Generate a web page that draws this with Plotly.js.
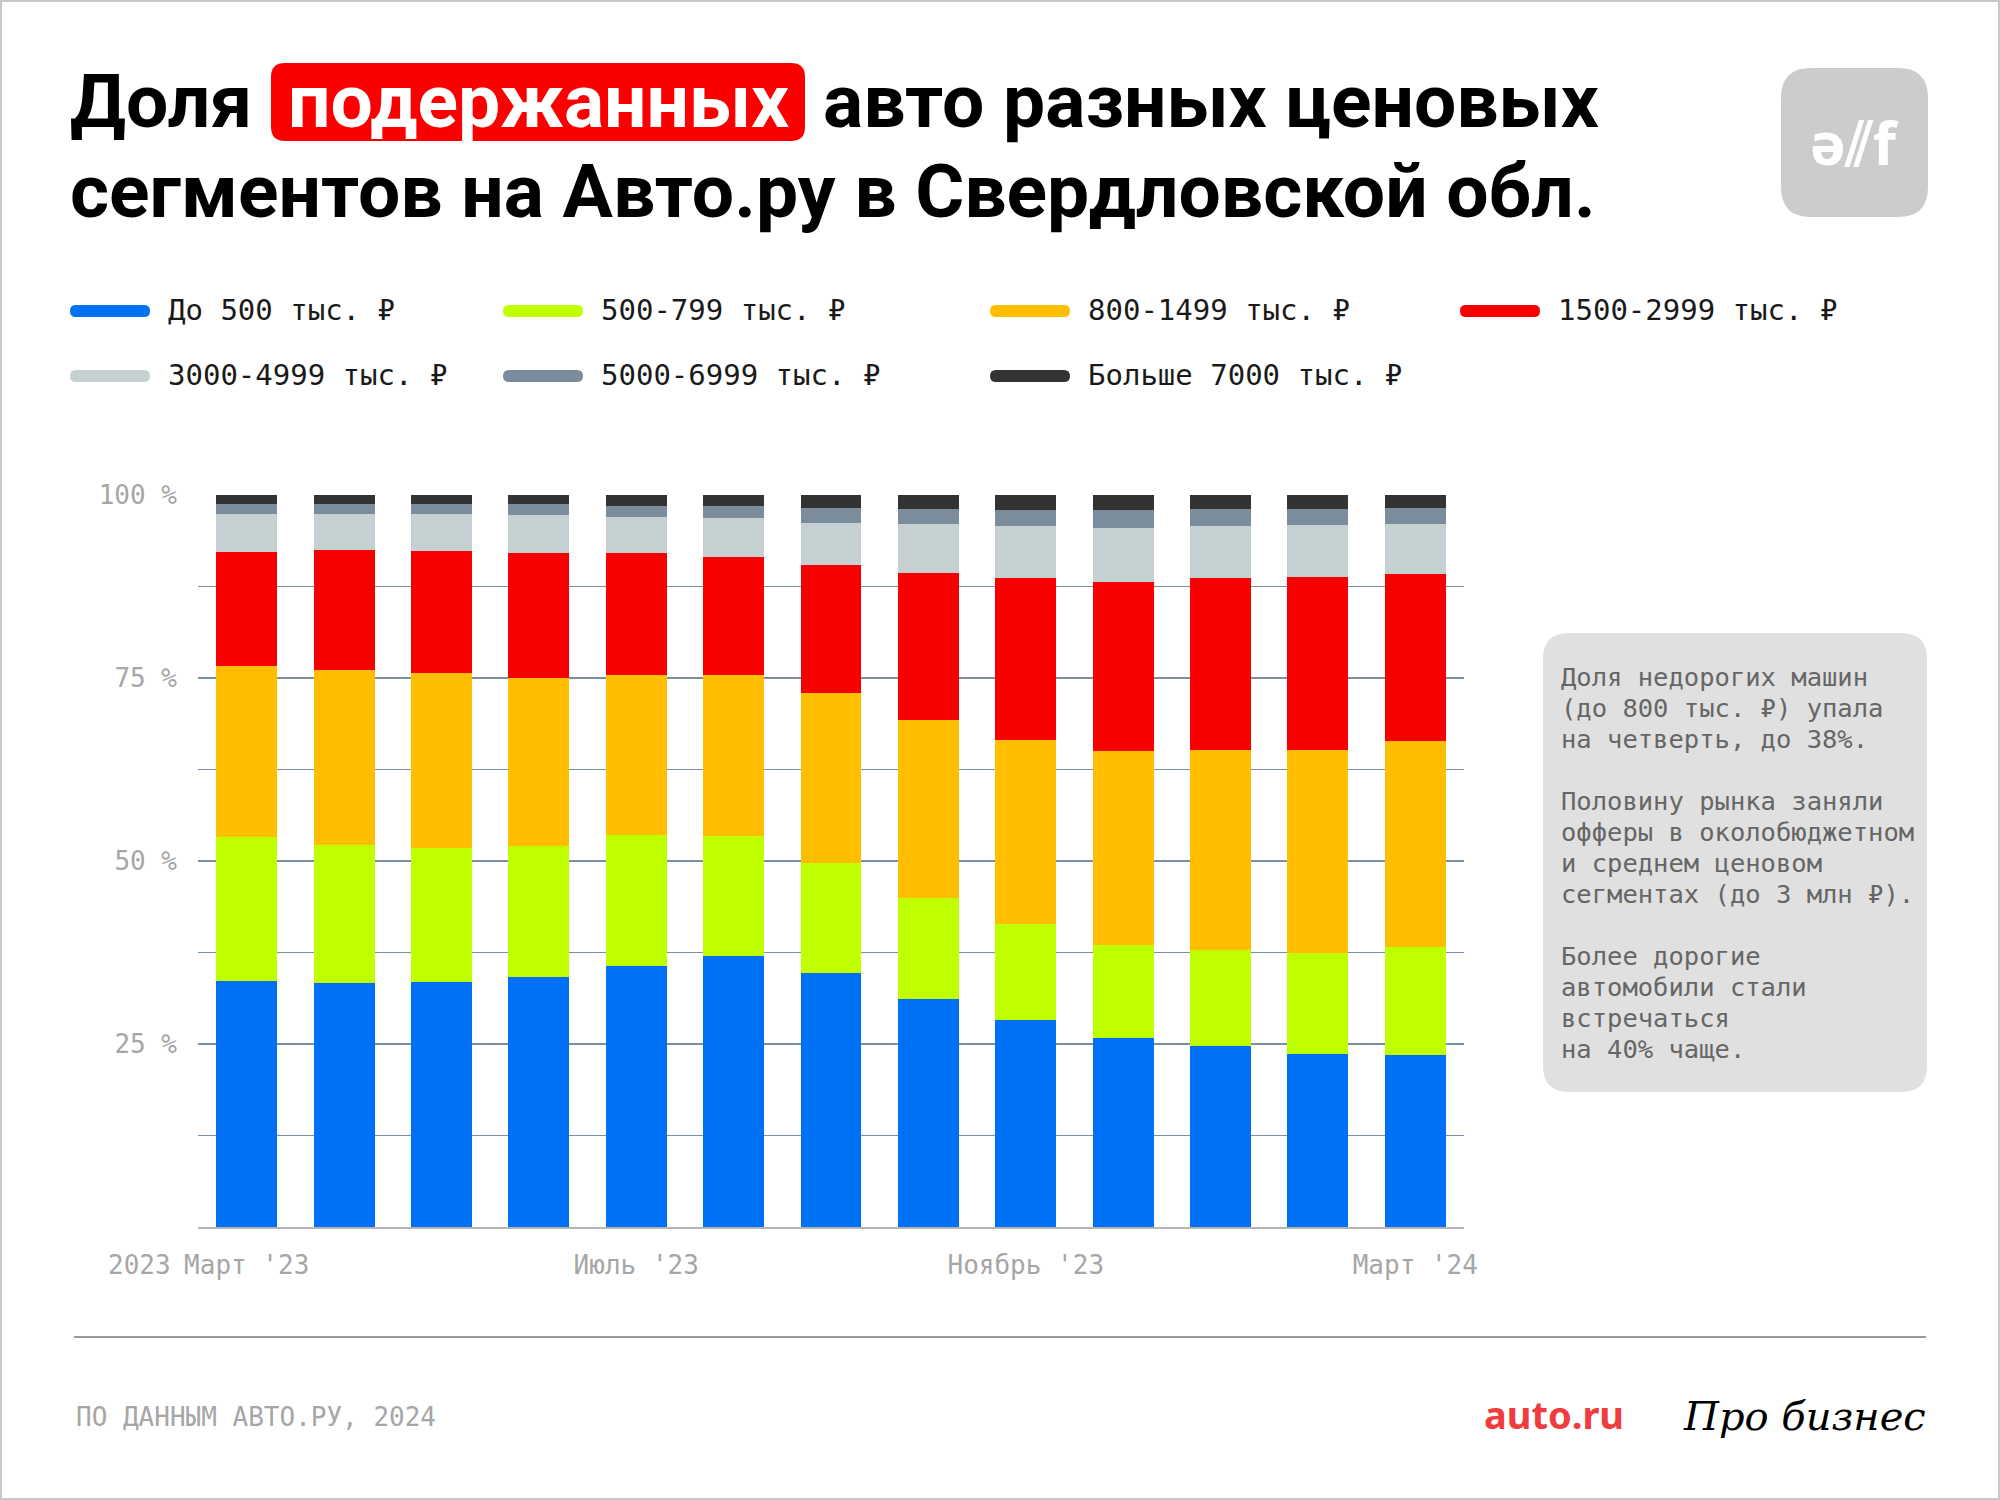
<!DOCTYPE html>
<html>
<head>
<meta charset="utf-8">
<script src="https://cdn.plot.ly/plotly-3.0.1.min.js"></script>
<style>
html,body{margin:0;padding:0;background:#fff;}
#chart{width:2000px;height:1500px;}
</style>
</head>
<body>
<div id="chart"></div>
<script>
// ---------- DATA ----------
const months = ["Март '23","Апрель '23","Май '23","Июнь '23","Июль '23","Август '23","Сентябрь '23","Октябрь '23","Ноябрь '23","Декабрь '23","Январь '24","Февраль '24","Март '24"];
const seriesNames = ["До 500 тыс. ₽","500-799 тыс. ₽","800-1499 тыс. ₽","1500-2999 тыс. ₽","3000-4999 тыс. ₽","5000-6999 тыс. ₽","Больше 7000 тыс. ₽"];
const upTo500   = [33.6,33.3,33.5,34.2,35.7,37.0,34.7,31.1,28.3,25.8,24.7,23.6,23.5];
const s500_799  = [19.7,18.9,18.3,17.8,17.9,16.4,15.0,13.8,13.1,12.7,13.1,13.8,14.8];
const s800_1499 = [23.3,23.9,23.9,23.0,21.8,22.0,23.2,24.4,25.1,26.5,27.4,27.8,28.1];
const s1500_2999= [15.6,16.4,16.6,17.1,16.7,16.1,17.5,20.0,22.2,23.1,23.5,23.6,22.8];
const s3000_4999= [5.2,4.9,5.1,5.2,4.9,5.4,5.8,6.7,7.1,7.4,7.1,7.1,6.8];
const s5000_6999= [1.4,1.4,1.4,1.5,1.5,1.6,2.0,2.1,2.2,2.5,2.3,2.2,2.2];
const over7000  = [1.2,1.2,1.2,1.2,1.5,1.5,1.8,1.9,2.0,2.0,1.9,1.9,1.8];
const xTickVals = ["Март '23","Июль '23","Ноябрь '23","Март '24"];
const yTickVals = [12.5,25,37.5,50,62.5,75,87.5,100];
const yTickText = ["","25 %","","50 %","","75 %","","100 %"];
const noteLines = ["Доля недорогих машин","(до 800 тыс. ₽) упала","на четверть, до 38%.","","Половину рынка заняли","офферы в околобюджетном","и среднем ценовом","сегментах (до 3 млн ₽).","","Более дорогие","автомобили стали","встречаться","на 40% чаще."];

// ---------- STYLE ----------
const colors = ["#0070f5","#bfff00","#ffbf00","#f90000","#c5d0d3","#7b8d9c","#333333"];
const allSeries = [upTo500,s500_799,s800_1499,s1500_2999,s3000_4999,s5000_6999,over7000];
const MONO = "DejaVu Sans Mono, Liberation Mono, monospace";
const SANS = "Roboto, Noto Sans, sans-serif";

// plot area in pixels
const L=198, R=1464, T=495, B=1227;
const W=R-L, H=B-T;
const px = p => (p-L)/W;
const py = p => (B-p)/H;

function rr(x0,y0,x1,y1,r){
  const P=(x,y)=>px(x).toFixed(5)+","+py(y).toFixed(5);
  return "M"+P(x0+r,y0)+" L"+P(x1-r,y0)+" Q"+P(x1,y0)+" "+P(x1,y0+r)+
         " L"+P(x1,y1-r)+" Q"+P(x1,y1)+" "+P(x1-r,y1)+
         " L"+P(x0+r,y1)+" Q"+P(x0,y1)+" "+P(x0,y1-r)+
         " L"+P(x0,y0+r)+" Q"+P(x0,y0)+" "+P(x0+r,y0)+" Z";
}

const traces = allSeries.map((vals,i)=>({
  type:"bar", x:months, y:vals, name:seriesNames[i],
  marker:{color:colors[i], line:{width:0}},
  hoverinfo:"skip", showlegend:false
}));

const shapes = [];
const annotations = [];

// outer border
shapes.push({type:"rect", xref:"paper", yref:"paper", x0:px(1), x1:px(1999), y0:py(1), y1:py(1499),
  line:{color:"#c8c8c8", width:2}, fillcolor:"rgba(0,0,0,0)", layer:"below"});

// title
shapes.push({type:"path", xref:"paper", yref:"paper", path:rr(271,63,805,141,14), fillcolor:"#fa0000", line:{width:0}, layer:"below"});
const titleFont = {family:SANS, size:75, color:"#000", weight:700};
annotations.push({xref:"paper", yref:"paper", x:px(68), y:py(101), xanchor:"left", yanchor:"middle", showarrow:false, text:"<b>Доля</b>", font:titleFont});
annotations.push({xref:"paper", yref:"paper", x:px(538), y:py(101), xanchor:"center", yanchor:"middle", showarrow:false, text:"<b>подержанных</b>", font:Object.assign({},titleFont,{color:"#fff"})});
annotations.push({xref:"paper", yref:"paper", x:px(821), y:py(101), xanchor:"left", yanchor:"middle", showarrow:false, text:"<b>авто разных ценовых</b>", font:titleFont});
annotations.push({xref:"paper", yref:"paper", x:px(68), y:py(191), xanchor:"left", yanchor:"middle", showarrow:false, text:"<b>сегментов на Авто.ру в Свердловской обл.</b>", font:titleFont});

// logo square
shapes.push({type:"path", xref:"paper", yref:"paper", path:rr(1781,68,1928,217,30), fillcolor:"#cccccc", line:{width:0}, layer:"below"});
annotations.push({xref:"paper", yref:"paper", x:px(1854), y:py(142), xanchor:"center", yanchor:"middle", showarrow:false, text:"<b>ə⫽f</b>", font:{family:"Noto Sans, sans-serif", size:60, color:"#ffffff"}});

// legend
const legPos = [[70,311],[503,311],[990,311],[1460,311],[70,376],[503,376],[990,376]];
seriesNames.forEach((n,i)=>{
  const [lx,ly]=legPos[i];
  shapes.push({type:"path", xref:"paper", yref:"paper", path:rr(lx,ly-6,lx+80,ly+6,6), fillcolor:colors[i], line:{width:0}});
  annotations.push({xref:"paper", yref:"paper", x:px(lx+96), y:py(ly-1), xanchor:"left", yanchor:"middle", showarrow:false, text:n, font:{family:MONO, size:29, color:"#1a1a1a"}});
});

// "2023" label next to first month
annotations.push({xref:"paper", yref:"paper", x:px(106), y:py(1265), xanchor:"left", yanchor:"middle", showarrow:false, text:"2023", font:{family:MONO, size:26, color:"#a6a6a6"}});

// note box
shapes.push({type:"path", xref:"paper", yref:"paper", path:rr(1543,633,1927,1092,26), fillcolor:"#e0e0e0", line:{width:0}, layer:"below"});
noteLines.forEach((t,i)=>{
  if(!t) return;
  annotations.push({xref:"paper", yref:"paper", x:px(1559), y:py(685+i*31-8), xanchor:"left", yanchor:"middle", showarrow:false, text:t, font:{family:MONO, size:25.5, color:"#666666"}});
});

// footer
shapes.push({type:"line", xref:"paper", yref:"paper", x0:px(74), x1:px(1926), y0:py(1337), y1:py(1337), line:{color:"#9a9a9a", width:2}});
annotations.push({xref:"paper", yref:"paper", x:px(74), y:py(1417), xanchor:"left", yanchor:"middle", showarrow:false, text:"ПО ДАННЫМ АВТО.РУ, 2024", font:{family:MONO, size:26, color:"#a6a6a6"}});
annotations.push({xref:"paper", yref:"paper", x:px(1626), y:py(1414), xanchor:"right", yanchor:"middle", showarrow:false, text:"<b>auto.ru</b>", font:{family:"Noto Sans, sans-serif", size:38, color:"#f03c3c"}});
annotations.push({xref:"paper", yref:"paper", x:px(1928), y:py(1416), xanchor:"right", yanchor:"middle", showarrow:false, text:"<i>Про бизнес</i>", font:{family:"DejaVu Serif, serif", size:40, color:"#000"}});

const layout = {
  width:2000, height:1500,
  margin:{l:L, r:2000-R, t:T, b:1500-B, pad:0},
  paper_bgcolor:"#ffffff", plot_bgcolor:"#ffffff",
  barmode:"stack", bargap:0.374,
  showlegend:false,
  xaxis:{type:"category", categoryarray:months, range:[-0.5,12.5], fixedrange:true,
    tickmode:"array", tickvals:xTickVals, ticktext:xTickVals,
    tickfont:{family:MONO, size:26, color:"#a6a6a6"}, ticks:"", ticklabelstandoff:14,
    showgrid:false, showline:true, linecolor:"#b5b5b5", linewidth:2, zeroline:false},
  yaxis:{range:[0,100], fixedrange:true, tickmode:"array", tickvals:yTickVals, ticktext:yTickText,
    tickfont:{family:MONO, size:26, color:"#a6a6a6"}, ticks:"", ticklabelstandoff:20,
    showgrid:true, gridcolor:"#7b8fa3", gridwidth:1.5, zeroline:false, showline:false},
  shapes:shapes, annotations:annotations
};

Plotly.newPlot("chart", traces, layout, {displayModeBar:false, staticPlot:true});
</script>
</body>
</html>
